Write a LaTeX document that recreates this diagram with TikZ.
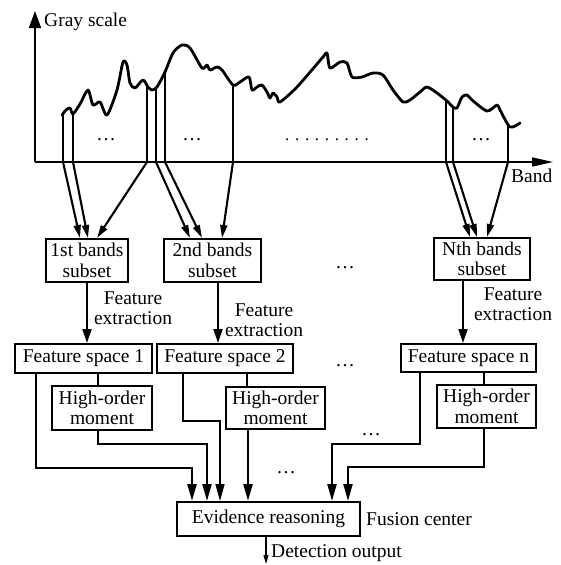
\documentclass[tikz,border=0pt]{standalone}
\usepackage{fontspec}
\setmainfont{Liberation Serif}
\usetikzlibrary{arrows.meta,calc}
\newcommand\fsz{\fontsize{19.5}{20.5}\selectfont}
\begin{document}
\begin{tikzpicture}[x=1pt,y=-1pt,
  box/.style={draw,line width=2pt,inner sep=0pt,align=center,font=\fsz},
  lbl/.style={font=\fsz,inner sep=0pt,align=center},
  dotlbl/.style={font=\fsz,inner sep=0pt,anchor=base},
  axis/.style={line width=1.6pt},
  curve/.style={line width=2.8pt,line join=round,line cap=round},
  bandline/.style={line width=1.8pt},
  barrow/.style={line width=2.1pt,-{Triangle[length=13pt,width=7pt]}},
  farrow/.style={line width=2.1pt,-{Triangle[length=14pt,width=9pt]}},
  earrow/.style={line width=2.4pt,-{Triangle[length=17pt,width=9pt]}},
  thinlink/.style={line width=1.2pt},
]
\useasboundingbox (0,0) rectangle (560,565);

% axes
\coordinate (o) at (35,162);
\coordinate (ytip) at (35,11);
\coordinate (xtip) at (553,162);
\draw[axis,-{Triangle[length=17pt,width=12pt]}] (o) -- (ytip);
\draw[axis,-{Triangle[length=21pt,width=9pt]}] (o) -- (xtip);
\node[lbl,anchor=west] (gs) at (44,22) {Gray scale};
\node[lbl,anchor=west] (band) at (511,176) {Band};

% spectrum curve
\draw[curve] plot[smooth,tension=0.45] coordinates {
(62,115) (66,110) (70,108) (73,114) (80,104) (88,90) (93,105) (100,102)
(107,115) (117,90) (123,62) (127,65) (130,83) (135,88) (143,80) (148,87)
(152,90) (157,87) (165,72) (173,53) (182,45) (190,48) (202,68) (207,65)
(210,70) (217,67) (222,70) (233,85) (240,82) (249,77) (252,90) (257,87)
(262,85) (267,92) (270,98) (273,93) (277,97) (280,102) (297,87) (323,57)
(327,53) (330,68) (340,62) (347,63) (352,77) (362,77) (373,73) (383,75)
(393,90) (403,102) (410,100) (420,92) (427,87) (437,93) (447,101) (453,107)
(457,108) (462,97) (467,95) (472,100) (487,111) (497,105) (500,110) (510,127)
(520,123)};

% band boundaries on the axis
\coordinate (a1) at (63,162);
\coordinate (a2) at (73,162);
\coordinate (a3) at (147,162);
\coordinate (a4) at (156,162);
\coordinate (a5) at (165,162);
\coordinate (a6) at (233,162);
\coordinate (a7) at (446,162);
\coordinate (a8) at (453,162);
\coordinate (a9) at (508,162);
\draw[bandline] (63,114) -- (a1);
\draw[bandline] (73,113) -- (a2);
\draw[bandline] (147,86) -- (a3);
\draw[bandline] (156,87) -- (a4);
\draw[bandline] (165,72) -- (a5);
\draw[bandline] (233,85) -- (a6);
\draw[bandline] (446,100) -- (a7);
\draw[bandline] (453,107) -- (a8);
\draw[bandline] (508,125) -- (a9);

% dots in spectrum
\node[dotlbl] (d1) at (106,140) {…};
\node[dotlbl] (d2) at (192,140) {…};
\node[font=\fontsize{17}{17}\selectfont,inner sep=0pt,anchor=base] (d3) at (327,140) {. . . . . . . . .};
\node[dotlbl] (d4) at (481,140) {…};

% band subset boxes
\node[box,minimum width=82pt,minimum height=43pt] (b1) at (87,260.5) {1st bands\\subset};
\node[box,minimum width=97pt,minimum height=43pt] (b2) at (212.5,260.5) {2nd bands\\subset};
\node[box,minimum width=96pt,minimum height=42pt] (bN) at (482,259) {Nth bands\\subset};
\node[dotlbl] (d5) at (345,268) {…};

% band arrows
\draw[barrow] (a1) -- ([xshift=-7pt]b1.north);
\draw[barrow] (a2) -- ([xshift=1pt]b1.north);
\draw[barrow] (a3) -- ([xshift=10pt]b1.north);
\draw[barrow] (a4) -- ([xshift=-22.5pt]b2.north);
\draw[barrow] (a5) -- ([xshift=-10.5pt]b2.north);
\draw[barrow] (a6) -- ([xshift=9.5pt]b2.north);
\draw[barrow] (a7) -- ([xshift=-12pt]bN.north);
\draw[barrow] (a8) -- ([xshift=-5pt]bN.north);
\draw[barrow] (a9) -- ([xshift=5pt]bN.north);

% feature space boxes
\node[box,minimum width=137pt,minimum height=29pt] (f1) at (83.5,358.5) {Feature space 1};
\node[box,minimum width=136pt,minimum height=29pt] (f2) at (225,358.5) {Feature space 2};
\node[box,minimum width=135pt,minimum height=28pt] (fn) at (468.5,358) {Feature space n};
\node[dotlbl] (d6) at (345,366) {…};

% feature extraction arrows
\coordinate (x1) at ([xshift=3.5pt]f1.north);
\coordinate (x2) at ([xshift=-7pt]f2.north);
\coordinate (x3) at ([xshift=-5.5pt]fn.north);
\draw[farrow] (x1 |- b1.south) -- (x1);
\draw[farrow] (x2 |- b2.south) -- (x2);
\draw[farrow] (x3 |- bN.south) -- (x3);
\node[lbl] (l1) at (133,308) {Feature\\extraction};
\node[lbl] (l2) at (264,320) {Feature\\extraction};
\node[lbl] (l3) at (513,304) {Feature\\extraction};

% high-order moment boxes
\node[box,minimum width=100pt,minimum height=44pt] (h1) at (102,408) {High-order\\moment};
\node[box,minimum width=99pt,minimum height=42pt] (h2) at (275.5,408) {High-order\\moment};
\node[box,minimum width=99pt,minimum height=43pt] (hn) at (486.5,406.5) {High-order\\moment};

\coordinate (t1) at ([xshift=-4pt]h1.north);
\coordinate (t2) at ([xshift=-28.5pt]h2.north);
\coordinate (t3) at ([xshift=-2.5pt]hn.north);
\draw[thinlink] (t1 |- f1.south) -- (t1);
\draw[thinlink] (t2 |- f2.south) -- (t2);
\draw[line width=2.6pt] (t3 |- fn.south) -- (t3);

% evidence reasoning
\node[box,minimum width=183pt,minimum height=34pt] (ev) at (268.5,519) {Evidence reasoning};
\node[lbl,anchor=west] (fc) at (366,519) {Fusion center};

\coordinate (e1) at ([xshift=-76.5pt]ev.north);
\coordinate (e2) at ([xshift=-61.5pt]ev.north);
\coordinate (e3) at ([xshift=-48.5pt]ev.north);
\coordinate (e4) at ([xshift=-20.5pt]ev.north);
\coordinate (e5) at ([xshift=63.5pt]ev.north);
\coordinate (e6) at ([xshift=79.5pt]ev.north);

\draw[earrow] ([xshift=-47.5pt]f1.south) |- (192,468) -- (e1);
\draw[earrow,line width=2pt] ([xshift=-4pt]h1.south) |- (207,444) -- (e2);
\draw[earrow,line width=1.5pt] ([xshift=-42pt]f2.south) |- (220,421) -- (e3);
\draw[earrow] (e4 |- h2.south) -- (e4);
\draw[earrow] ([xshift=-48.5pt]fn.south) |- (332,444) -- (e5);
\draw[earrow,line width=2pt] ([xshift=-2.5pt]hn.south) |- (348,467) -- (e6);

\node[dotlbl] (d7) at (286,473) {…};
\node[dotlbl] (d8) at (371,435) {…};

% detection output
\coordinate (dout) at (266,564);
\draw[line width=1.2pt,-{Triangle[length=9pt,width=5pt]}] (dout |- ev.south) -- (dout);
\node[lbl,anchor=west] (det) at (271,553) {Detection output};
\end{tikzpicture}
\end{document}
